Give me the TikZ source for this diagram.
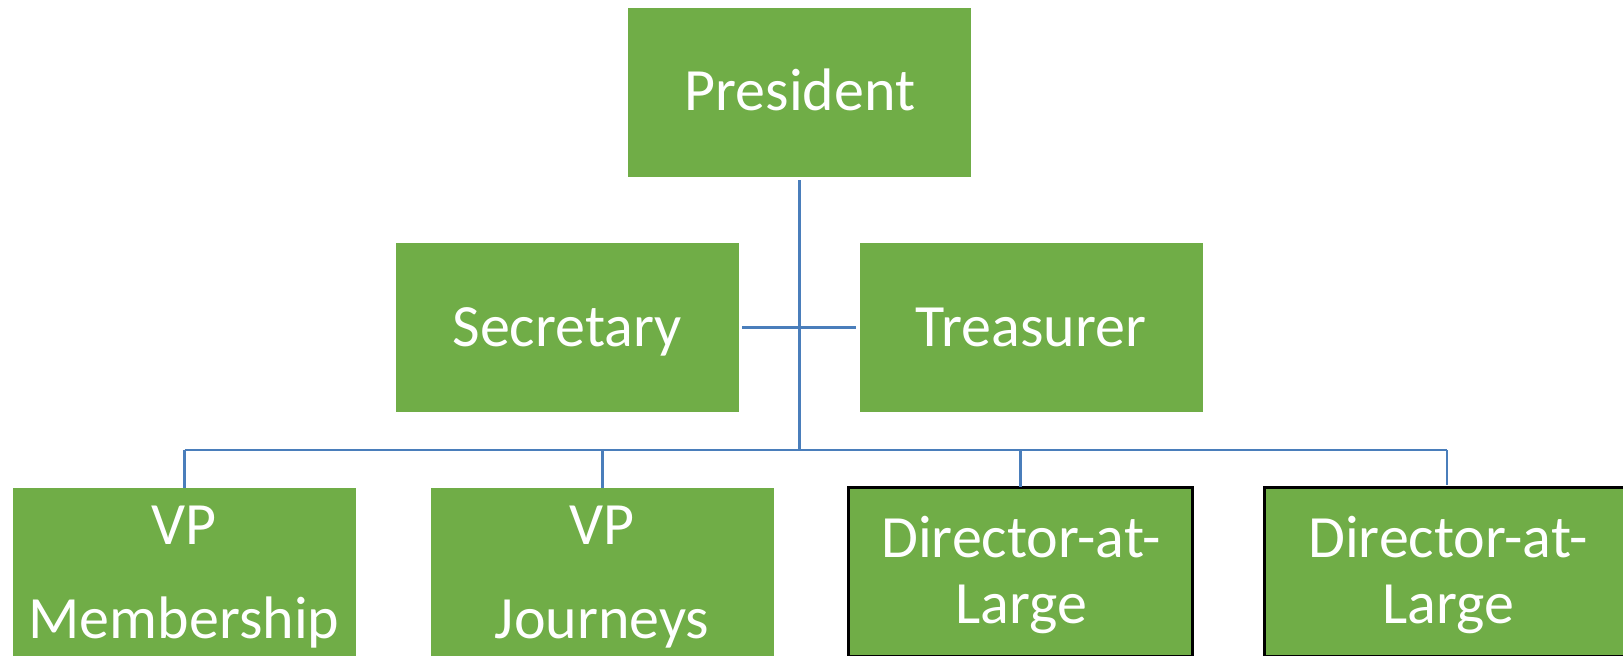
\documentclass[tikz,border=0pt]{standalone}
\usepackage{fontspec}
\setmainfont{Carlito}
\definecolor{boxgreen}{HTML}{70AD47}
\definecolor{linkblue}{HTML}{4A7EBB}
\begin{document}
\begin{tikzpicture}[x=1pt,y=-1pt,
  office/.style={rectangle,fill=boxgreen,draw=none,inner sep=0pt,
    minimum width=343pt,minimum height=169pt},
  director/.style={office,draw=black,line width=2.6pt,
    minimum width=344.5pt,minimum height=169.5pt},
  caption/.style={anchor=base,text=white,inner sep=0pt,
    font=\fontsize{60}{66}\selectfont},
  conn/.style={draw=linkblue,line width=2.6pt}]
\useasboundingbox (0,0) rectangle (1623,656);
\clip (0,0) rectangle (1623,656);

% boxes
\node[office]   (pres) at (799.5,92.5) {};
\node[office]   (sec)  at (567,327.5) {};
\node[office]   (tre)  at (1031,327.5) {};
\node[office]   (vpm)  at (184.5,572.5) {};
\node[office]   (vpj)  at (602.5,572.5) {};
\node[director] (dir1) at (1020.5,572) {};
\node[director,minimum width=374pt] (dir2) at (1451.5,572) {};

% captions
\node[caption] (pres-t)  at (800,110)  {President};
\node[caption] (sec-t)   at (567,346)  {Secretary};
\node[caption] (tre-t)   at (1031,346) {Treasurer};
\node[caption] (vpm-t1)  at (184,544)  {VP};
\node[caption] (vpm-t2)  at (184,638)  {Membership};
\node[caption] (vpj-t1)  at (602,544)  {VP};
\node[caption] (vpj-t2)  at (602,638)  {Journeys};
\node[caption] (dir1-t1) at (1021,557) {Director-at-};
\node[caption] (dir1-t2) at (1021,623) {Large};
\node[caption] (dir2-t1) at (1448,557) {Director-at-};
\node[caption] (dir2-t2) at (1448,623) {Large};

% connectors
\coordinate (hub) at (799.5,450);
\draw[conn] ([yshift=-3pt]pres.south) -- (hub);
\draw[conn] ([xshift=3.5pt]sec.east) -- ([xshift=-3pt]tre.west);
\draw[conn] (vpm.north |- hub) -- (1447,450);
\draw[conn] (vpm.north |- hub) -- (vpm.north);
\draw[conn] (vpj.north |- hub) -- (vpj.north);
\draw[conn] (dir1.north |- hub) -- ([yshift=-1.3pt]dir1.north);
\draw[conn] (1447,450) -- (1447,485);
\end{tikzpicture}
\end{document}
